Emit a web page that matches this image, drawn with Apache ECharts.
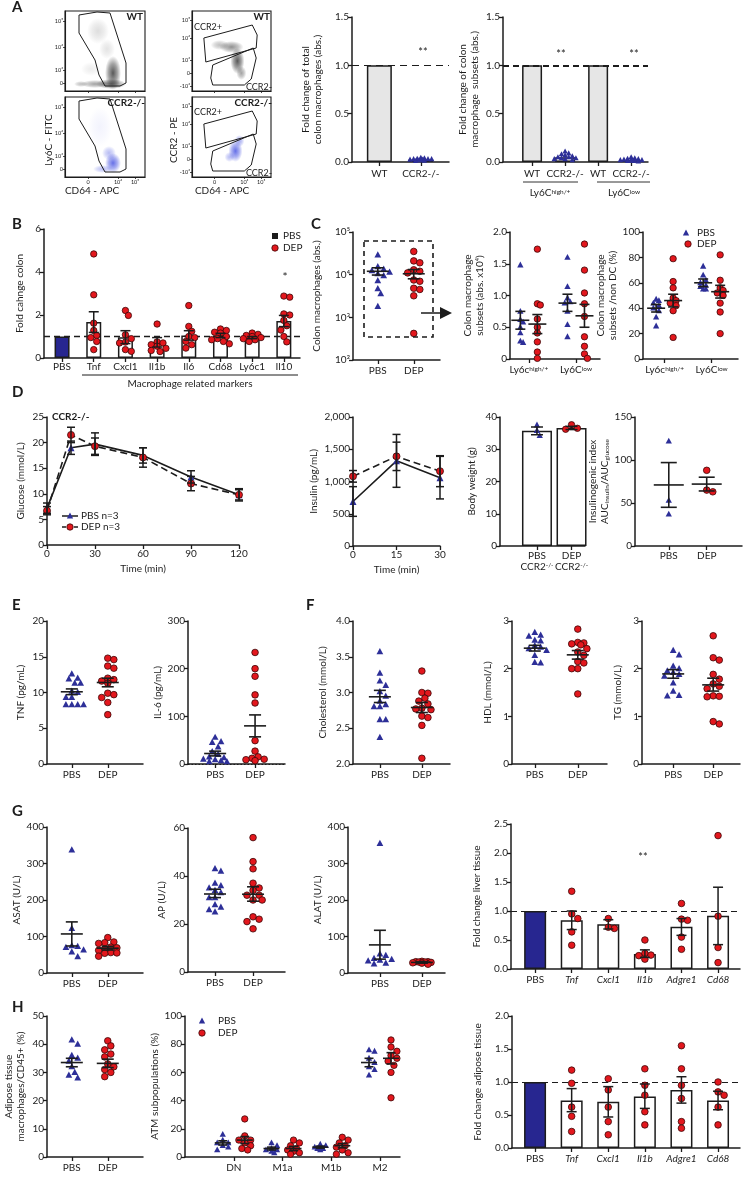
<!DOCTYPE html>
<html><head><meta charset="utf-8"><title>Figure</title>
<script src="https://cdn.jsdelivr.net/npm/echarts@6.0.0/dist/echarts.min.js"></script>
<style>html,body{margin:0;padding:0;background:#fff;}#chart{width:744px;height:1179px;}</style>
</head><body><div id="chart"></div>
<script>
// ================= DATA =================
// Panel A – flow cytometry (plot units 0–80): tick labels, gates and density clusters
const flowTicksLy6C=[[8,'0'],[21,'10³'],[44,'10⁴'],[70,'10⁵']];
const flowTicksCCR2=[[5,'-10³'],[18,'0'],[31,'10³'],[53,'10⁴'],[71,'10⁵']];
const flowTicksCD64=[[23,'0'],[53,'10⁴'],[70,'10⁵']];
const flowGateLy6C=[[14,76],[32,79],[45,78],[61,28],[61,8],[55,5],[40,5],[34,16],[30,31],[14,58],[14,76]];
const flowGateCCR2pos=[[12,53],[61,66],[66,56],[65,43],[14,29],[12,53]];
const flowGateCCR2neg=[[21,26],[62,43],[65,33],[60,12],[53,6],[21,6],[19,13],[21,26]];
const flowWTly6C=[[48,18,16,34,0.9],[46,7,30,10,0.8],[30,7,28,8,0.5],[16,7,14,6,0.35],[33,60,22,26,0.18],[42,42,16,20,0.15],[26,22,20,14,0.1]];
const flowKOly6C=[[48,14,16,20,0.85],[44,24,14,14,0.4],[38,8,20,8,0.4],[35,50,24,40,0.07]];
const flowWTccr2=[[46,30,14,26,0.9],[40,44,24,12,0.6],[28,46,18,10,0.35],[50,18,10,14,0.5]];
const flowKOccr2=[[44,26,14,22,0.85],[48,36,10,12,0.5],[38,20,10,10,0.4]];

// Panel A – bar charts
const aTotalCats=['WT','CCR2-/-'];
const aTotalBar=[1.0,0.025];
const aTotalKO=[0.045,0.04,0.035,0.03,0.03,0.025,0.025,0.02,0.02,0.015,0.01,0.03];
const aSubCats=['WT','CCR2-/-','WT','CCR2-/-'];
const aSubBar=[1.0,0.05,1.0,0.02];
const aSubKOhigh=[0.11,0.09,0.08,0.07,0.06,0.05,0.05,0.04,0.04,0.03,0.03,0.02];
const aSubKOlow=[0.05,0.04,0.035,0.03,0.025,0.02,0.02,0.015,0.01,0.01,0.005,0.02];

// Panel B
const bCats=['PBS','Tnf','Cxcl1','Il1b','Il6','Cd68','Ly6c1','Il10'];
const bMean=[1.0,1.67,0.97,0.73,1.05,1.05,0.95,1.72];
const bSem=[0,0.48,0.30,0.22,0.22,0.10,0.05,0.26];
const bDEP=[[],
 [4.84,2.94,1.62,1.28,1.05,0.95,0.77,0.39],
 [2.21,1.98,1.08,0.9,0.74,0.7,0.39,0.31],
 [1.58,0.75,0.7,0.62,0.55,0.45,0.35,0.3],
 [2.44,1.47,1.24,1.0,0.95,0.77,0.62,0.46],
 [1.35,1.28,1.2,1.16,1.0,0.9,0.85,0.77,0.66],
 [1.16,1.1,1.05,1.0,0.95,0.9,0.85,0.77],
 [2.88,2.83,2.05,2.0,1.75,1.5,1.3,1.0,0.75]];

// Panel C
const c1Cats=['PBS','DEP'];
const c1PBS=[29000,15400,13500,12400,11500,10500,9500,7200,4700,3600,1800];
const c1DEP=[35000,21000,19000,13000,12000,11000,7500,7000,4800,4500,3200,420];
const c1Stats=[[12000,9800,14500],[10500,8000,13200]];
const c2Cats=['Ly6c{s|high/+}','Ly6C{s|low}'];
const c2PBS=[[1.48,0.75,0.62,0.58,0.5,0.41,0.28,0.26],[1.6,1.14,0.96,0.9,0.88,0.75,0.54,0.35]];
const c2DEP=[[1.73,0.87,0.85,0.63,0.5,0.41,0.27,0.11,0.01],[1.81,1.4,1.04,0.87,0.67,0.35,0.2,0.08,0.01]];
const c2StatsPBS=[[0.61,0.47,0.75],[0.88,0.75,1.02]];
const c2StatsDEP=[[0.55,0.40,0.70],[0.68,0.50,0.86]];
const c3PBS=[[47,46,44,42,40,38,33,26],[73,66,62,60,58,57,55,55]];
const c3DEP=[[79,61,56,48,46,44,42,38,17],[82,62,56,54,52,50,44,37,20]];
const c3StatsPBS=[[40,37,43],[60,57,63]];
const c3StatsDEP=[[46,41,51],[53,48,58]];

// Panel D
const dTimes=[0,15,30,60,90,120];
const dGluPBS=[7.2,19.0,19.7,17.5,13.3,9.8];
const dGluPBSerr=[1.0,1.3,2.2,1.5,1.2,1.0];
const dGluDEP=[6.7,21.5,19.3,17.1,12.0,9.8];
const dGluDEPerr=[0.8,1.5,1.6,1.9,1.4,1.2];
const dInsTimes=[0,15,30];
const dInsPBS=[690,1320,1060];
const dInsPBSerr=[230,410,330];
const dInsDEP=[1080,1390,1160];
const dInsDEPerr=[90,220,240];
const dBwCats=['PBS','DEP'];
const dBwMean=[35.7,36.6];
const dBwSem=[1.2,0.5];
const dBwPBS=[37.5,35.8,34.2];
const dBwDEP=[37.6,36.5,36.2];
const dIdxPBS=[122,53,37];
const dIdxDEP=[88,65,63];
const dIdxStats=[[71,45,97],[72,64,80]];

// Panel E
const eTnfPBS=[12.6,12.0,11.9,11.3,11.3,10.2,10.0,9.3,9.3,8.3,8.3,8.3,8.3];
const eTnfDEP=[14.8,14.6,13.7,13.4,12.0,11.8,11.6,11.3,9.9,9.7,9.3,8.6,6.9];
const eTnfStats=[[10.1,9.7,10.5],[11.4,10.8,12.0]];
const eIl6PBS=[56,47,45,36,26,20,15,13,10,9,7,5,5];
const eIl6DEP=[234,200,184,145,128,49,27,15,12,10,9,7];
const eIl6Stats=[[22,17,27],[80,57,103]];

// Panel F
const fCholPBS=[3.57,3.27,3.16,3.10,3.01,2.95,2.88,2.83,2.80,2.80,2.62,2.62,2.37];
const fCholDEP=[3.30,3.00,2.99,2.92,2.88,2.84,2.78,2.77,2.76,2.67,2.65,2.54,2.08];
const fCholStats=[[2.94,2.86,3.03],[2.79,2.72,2.86]];
const fHdlPBS=[2.76,2.70,2.68,2.60,2.58,2.48,2.45,2.42,2.38,2.28,2.13,2.12];
const fHdlDEP=[2.83,2.55,2.54,2.52,2.50,2.42,2.35,2.28,2.15,2.12,2.00,2.00,1.47];
const fHdlStats=[[2.43,2.37,2.49],[2.29,2.20,2.38]];
const fTgPBS=[2.38,2.29,2.05,2.0,1.95,1.92,1.88,1.84,1.70,1.53,1.44,1.43];
const fTgDEP=[2.69,2.23,2.18,1.88,1.78,1.68,1.63,1.58,1.43,1.42,1.41,0.89,0.84];
const fTgStats=[[1.89,1.80,1.98],[1.66,1.53,1.80]];

// Panel G
const gAsatPBS=[337,122,75,73,70,63,58,45];
const gAsatDEP=[97,85,83,81,71,69,66,62,56,55,54,46];
const gAsatStats=[[107,74,140],[68,63,73]];
const gApPBS=[43,42,37,36,35,34,33,31,31,28,27,26,25];
const gApDEP=[56,46,43,37,35,34,32,32,30,30,23,22,21,18];
const gApStats=[[32.5,31,34.5],[32.4,29.5,35.5]];
const gAlatPBS=[355,52,48,40,37,35,33,27,25];
const gAlatDEP=[32,31,31,30,30,29,28,27,24];
const gAlatStats=[[77,38,117],[29,27,31]];
const geneCats=['PBS','Tnf','Cxcl1','Il1b','Adgre1','Cd68'];
const gLiverMean=[1.0,0.84,0.77,0.26,0.73,0.92];
const gLiverErr=[null,[0.68,1.0],[0.69,0.85],[0.20,0.33],[0.58,0.87],[0.42,1.41]];
const gLiverPts=[[],[1.34,0.95,0.87,0.64,0.41],[0.87,0.72,0.70],[0.50,0.27,0.24,0.23,0.17],[1.13,0.86,0.84,0.55,0.34],[2.30,0.91,0.37,0.11]];

// Panel H
const hMacPBS=[41.5,40,36,35,34,32,30,29,28];
const hMacDEP=[41.2,39.4,38,36.5,35.5,33,32,31,30,28.5];
const hMacStats=[[33.5,32,35],[33.2,31.7,34.7]];
const hAtmCats=['DN','M1a','M1b','M2'];
const hAtmPBS=[[16,12,10,10,8,7,5],[10,8,6,5,5,4,3],[9,8,7,7,6,6,5],[76,75,70,67,64,62,58]];
const hAtmDEP=[[27,15,12,12,10,8,6,5],[12,10,8,6,5,4,3,2],[14,12,10,8,7,5,3,2],[83,78,75,72,70,68,65,60,42]];
const hAtmStatsPBS=[[10,8.5,11.5],[6,5,7],[7,6.3,7.7],[67,64,70]];
const hAtmStatsDEP=[[12,9.5,14.5],[6,4.5,7.5],[8,6.5,9.5],[70,66,74]];
const hFoldMean=[1.0,0.72,0.70,0.78,0.88,0.72];
const hFoldErr=[null,[0.55,0.90],[0.47,0.93],[0.60,0.97],[0.68,1.08],[0.58,0.86]];
const hFoldPts=[[],[1.18,0.98,0.62,0.48,0.25],[1.05,0.88,0.62,0.40,0.20],[1.20,0.95,0.80,0.55,0.35],[1.55,1.20,0.95,0.75,0.40,0.30],[1.00,0.85,0.80,0.62,0.35]];

// ================= BUILD =================
const F='Lato, "Open Sans", "DejaVu Sans", sans-serif';
const INK='#1c1c1c', NAVY='#2d2f98', RED='#e3171d', BARNAVY='#272690';
const grids=[], xAxes=[], yAxes=[], series=[], graphic=[];

function merge(a,b){const r=Object.assign({},a);for(const k in b){const v=b[k];if(v&&typeof v==='object'&&!Array.isArray(v)&&r[k]&&typeof r[k]==='object'&&!Array.isArray(r[k])&&typeof v!=='function')r[k]=merge(r[k],v);else r[k]=v;}return r;}
const AXBASE={axisLine:{show:true,onZero:false,lineStyle:{color:INK,width:1.5}},axisTick:{show:true,length:4,lineStyle:{color:INK,width:1.3}},axisLabel:{color:INK,fontSize:10,fontFamily:F,margin:3},splitLine:{show:false},nameTextStyle:{color:INK,fontSize:10,fontFamily:F,lineHeight:12}};
function yAx(o){return merge(merge(AXBASE,{type:'value',nameLocation:'middle',nameRotate:90}),o||{});}
function xVal(o){return merge(merge(AXBASE,{type:'value',nameLocation:'middle'}),o||{});}
function xPos(names,first,max,o){const cv=names.map((n,i)=>+(first+i).toFixed(4));
  return merge(merge(AXBASE,{type:'value',min:0,max:max,nameLocation:'middle',axisTick:{customValues:cv},axisLabel:{customValues:cv,margin:5,formatter:v=>names[Math.round(v-first)]}}),o||{});}
function addGrid(b,xa,ya,extra){const i=grids.length;grids.push(Object.assign({left:b[0],top:b[1],width:b[2]-b[0],height:b[3]-b[1]},extra||{}));xa.gridIndex=i;ya.gridIndex=i;xAxes.push(xa);yAxes.push(ya);return i;}
const fmt1=v=>v.toFixed(1);
function dash(y,w,d){return {silent:true,symbol:['none','none'],label:{show:false},animation:false,lineStyle:{color:INK,type:d||[6,4],width:w||1.2},data:[{yAxis:y}]};}

// beeswarm layout in pixel space, spread limited to +-maxOff (points may overlap, as in the figure)
function swarm(ys,d,maxOff){const order=ys.map((y,i)=>i).sort((a,b)=>ys[a]-ys[b]);const placed=[];const res=new Array(ys.length).fill(0);const step=d*0.5;
  for(const i of order){const y=ys[i];let best=0,bestScore=-1;
    for(let k=0;k<200;k++){const dx=k===0?0:((k%2)?1:-1)*Math.ceil(k/2)*step;if(Math.abs(dx)>maxOff)break;
      let minD=Infinity;for(const p of placed){const ax=dx-p[0],ay=y-p[1];const dd=Math.sqrt(ax*ax+ay*ay);if(dd<minD)minD=dd;}
      if(minD>=d*0.96){best=dx;bestScore=Infinity;break;}
      if(minD>bestScore+0.3){bestScore=minD;best=dx;}}
    res[i]=best;placed.push([best,y]);}
  return res;}

function dots(gi,x,vals,kind,opt){opt=opt||{};
  series.push({type:'custom',xAxisIndex:gi,yAxisIndex:gi,silent:true,z:opt.z||5,data:[[x,vals.length?vals[0]:(opt.stats?opt.stats[0]:1)]],
    renderItem:(p,api)=>{const base=api.coord([x,vals.length?vals[0]:opt.stats[0]]);const cx=base[0]+(opt.off||0);
      const r=opt.r||3.3,d=opt.d||(2*r*0.92);const ys=vals.map(v=>api.coord([x,v])[1]);const offs=swarm(ys,d,opt.maxOff||12);const ch=[];
      ys.forEach((y,i)=>{const px=cx+offs[i];
        if(kind==='tri')ch.push({type:'polygon',shape:{points:[[px,y-r*1.15],[px+r*1.05,y+r*0.8],[px-r*1.05,y+r*0.8]]},style:{fill:NAVY}});
        else ch.push({type:'circle',shape:{cx:px,cy:y,r:r},style:{fill:RED,stroke:'#3a0808',lineWidth:0.8}});});
      if(opt.stats){const s=opt.stats;const ym=api.coord([x,s[0]])[1],yl=api.coord([x,s[1]])[1],yh=api.coord([x,s[2]])[1];
        const mw=opt.mw||22,cw=opt.cw||12;const st={stroke:INK,lineWidth:1.6};
        ch.push({type:'line',shape:{x1:cx-mw/2,y1:ym,x2:cx+mw/2,y2:ym},style:st});
        ch.push({type:'line',shape:{x1:cx,y1:yl,x2:cx,y2:yh},style:st});
        ch.push({type:'line',shape:{x1:cx-cw/2,y1:yl,x2:cx+cw/2,y2:yl},style:st});
        ch.push({type:'line',shape:{x1:cx-cw/2,y1:yh,x2:cx+cw/2,y2:yh},style:st});}
      return {type:'group',children:ch};}});}

function errs(gi,rows,cap,z){series.push({type:'custom',xAxisIndex:gi,yAxisIndex:gi,silent:true,z:z||6,data:rows,encode:{x:0,y:1},
  renderItem:(p,api)=>{const x=api.value(0);const a=api.coord([x,api.value(1)]),b=api.coord([x,api.value(2)]);const st={stroke:INK,lineWidth:1.5};const h=cap/2;
    return {type:'group',children:[{type:'line',shape:{x1:a[0],y1:a[1],x2:b[0],y2:b[1]},style:st},{type:'line',shape:{x1:a[0]-h,y1:a[1],x2:a[0]+h,y2:a[1]},style:st},{type:'line',shape:{x1:b[0]-h,y1:b[1],x2:b[0]+h,y2:b[1]},style:st}]};}});}

function bars(gi,xs,vals,colors,w,ml){series.push({type:'bar',xAxisIndex:gi,yAxisIndex:gi,barWidth:w,silent:true,z:2,
  data:vals.map((v,i)=>({value:[xs[i],v],itemStyle:{color:colors[i]}})),itemStyle:{borderColor:INK,borderWidth:1.5},markLine:ml});}

function T(x,y,text,o){o=o||{};const e={type:'text',x:x,y:y,rotation:o.rot||0,z:50,silent:true,style:{text:text,fill:o.color||INK,font:(o.style||'normal')+' '+(o.weight||'normal')+' '+(o.size||10)+'px '+F,textAlign:o.align||'center',textVerticalAlign:o.va||'middle',align:o.align||'center',verticalAlign:o.va||'middle'}};
  if(o.rich){e.style.rich=o.rich;}graphic.push(e);}
function L(x1,y1,x2,y2,w,dsh){graphic.push({type:'line',z:50,silent:true,shape:{x1,y1,x2,y2},style:{stroke:INK,lineWidth:w||1,lineDash:dsh||null}});}
function TRI(x,y,r){graphic.push({type:'polygon',z:50,silent:true,shape:{points:[[x,y-r*1.15],[x+r*1.05,y+r*0.8],[x-r*1.05,y+r*0.8]]},style:{fill:NAVY}});}
function CIR(x,y,r){graphic.push({type:'circle',z:50,silent:true,shape:{cx:x,cy:y,r:r},style:{fill:RED,stroke:'#3a0808',lineWidth:0.8}});}
const SUP={s:{fontSize:6.5,verticalAlign:'top',fontFamily:F,color:INK,lineHeight:8}};

// ---------- Panel A: flow ----------
function flowAx(ticks,show){const v=ticks.map(t=>t[0]);return {type:'value',min:0,max:80,splitLine:{show:false},
  axisLine:{show:true,onZero:false,lineStyle:{color:INK,width:1.1}},axisTick:{show:true,length:2,customValues:v,lineStyle:{color:INK,width:0.8}},
  axisLabel:{show:show,customValues:v,fontSize:5.5,fontFamily:F,color:INK,margin:2,formatter:x=>{const t=ticks.find(t=>Math.abs(t[0]-x)<0.01);return t?t[1]:'';}}};}
const flowBox={show:true,borderColor:INK,borderWidth:1.1};
function blobs(gi,arr,rgb){series.push({type:'scatter',xAxisIndex:gi,yAxisIndex:gi,silent:true,z:1,
  data:arr.map(b=>({value:[b[0],b[1]],symbolSize:[b[2],b[3]],itemStyle:{color:{type:'radial',x:0.5,y:0.5,r:0.5,colorStops:[{offset:0,color:'rgba('+rgb+','+b[4]+')'},{offset:0.55,color:'rgba('+rgb+','+(b[4]*0.55)+')'},{offset:1,color:'rgba('+rgb+',0)'}]}}}))});}
function gate(gi,pts){series.push({type:'line',xAxisIndex:gi,yAxisIndex:gi,silent:true,z:3,data:pts,symbol:'none',lineStyle:{color:INK,width:1}});}
const gF1=addGrid([65,11,145,91],flowAx(flowTicksCD64,false),flowAx(flowTicksLy6C,true),flowBox);
const gF2=addGrid([65,97,145,177],flowAx(flowTicksCD64,true),flowAx(flowTicksLy6C,true),flowBox);
const gF3=addGrid([192,11,271,91],flowAx(flowTicksCD64,false),flowAx(flowTicksCCR2,true),flowBox);
const gF4=addGrid([192,97,271,177],flowAx(flowTicksCD64,true),flowAx(flowTicksCCR2,true),flowBox);
blobs(gF1,flowWTly6C,'25,25,25');gate(gF1,flowGateLy6C);
blobs(gF2,flowKOly6C,'30,45,220');gate(gF2,flowGateLy6C);
blobs(gF3,flowWTccr2,'25,25,25');gate(gF3,flowGateCCR2pos);gate(gF3,flowGateCCR2neg);
blobs(gF4,flowKOccr2,'30,45,220');gate(gF4,flowGateCCR2pos);gate(gF4,flowGateCCR2neg);
T(143,17,'WT',{weight:'bold',size:10,align:'right'});
T(145,103,'CCR2-/-',{weight:'bold',size:10,align:'right'});
T(270,17,'WT',{weight:'bold',size:10,align:'right'});
T(272,103,'CCR2-/-',{weight:'bold',size:10,align:'right'});
T(194,27,'CCR2+',{size:9,align:'left'});T(194,112,'CCR2+',{size:9,align:'left'});
T(272,87,'CCR2-',{size:9,align:'right'});T(272,173,'CCR2-',{size:9,align:'right'});
T(49,140,'Ly6C - FITC',{rot:Math.PI/2,size:10});
T(174,140,'CCR2 - PE',{rot:Math.PI/2,size:10});
T(92,191,'CD64 - APC',{size:10});T(222,191,'CD64 - APC',{size:10});

// ---------- Panel A: bars ----------
const gA1=addGrid([352,17,449,162],xPos(aTotalCats,0.66,2.34,{axisLabel:{margin:7}}),yAx({min:0,max:1.5,interval:0.5,axisLabel:{formatter:fmt1},name:'Fold change of total\ncolon macrophages (abs.)',nameGap:28}));
bars(gA1,[0.66,1.66],aTotalBar,['#e6e6e6','#e6e6e6'],25,dash(1,1.1,[7,5]));
dots(gA1,1.66,aTotalKO,'tri',{r:2.6,d:3.6,maxOff:12});
const gA2=addGrid([503,17,648,162],xPos(aSubCats,0.88,4.39,{axisLabel:{margin:7}}),yAx({min:0,max:1.5,interval:0.5,axisLabel:{formatter:fmt1},name:'Fold change of colon\nmacrophage  subsets (abs.)',nameGap:22}));
bars(gA2,[0.88,1.88,2.88,3.88],aSubBar,['#e6e6e6','#e6e6e6','#e6e6e6','#e6e6e6'],20,dash(1,2,[6,4]));
dots(gA2,1.88,aSubKOhigh,'tri',{r:2.6,d:3.6,maxOff:11});
dots(gA2,3.88,aSubKOlow,'tri',{r:2.6,d:3.6,maxOff:11});
T(423,52,'**',{size:11});T(561,54,'**',{size:11});T(634,54,'**',{size:11});
L(523,182,578,182,0.9);L(597,182,650,182,0.9);
T(550,193,'Ly6C{s|high/+}',{rich:SUP});T(624,193,'Ly6C{s|low}',{rich:SUP});

// ---------- Panel B ----------
const bFirst=0.57;const bX=bCats.map((c,i)=>bFirst+i);
const gB=addGrid([44,229,300,358],xPos(bCats,bFirst,8.08,{axisLabel:{margin:4}}),yAx({min:0,max:6,interval:2,name:'Fold cahnge colon',nameGap:18}));
bars(gB,bX,bMean,bCats.map((c,i)=>i===0?BARNAVY:'#fff'),15,dash(1,1.3,[6,4]));
errs(gB,bX.slice(1).map((x,i)=>[x,bMean[i+1]-bSem[i+1],bMean[i+1]+bSem[i+1]]),10);
bX.forEach((x,i)=>{if(bDEP[i].length)dots(gB,x,bDEP[i],'cir',{r:3.2,maxOff:11});});
L(82,375,298,375,1);T(190,384,'Macrophage related markers',{size:10});
T(285,277,'*',{size:12});
graphic.push({type:'rect',z:50,silent:true,shape:{x:272,y:233,width:6,height:6},style:{fill:INK}});
T(283,236,'PBS',{align:'left'});CIR(275,248,3.2);T(283,248,'DEP',{align:'left'});

// ---------- Panel C ----------
const supDigits={2:'²',3:'³',4:'⁴',5:'⁵'};
const gC1=addGrid([353,232,440,360],xPos(c1Cats,0.69,2.42,{axisLabel:{margin:6}}),yAx({type:'log',logBase:10,min:100,max:100000,axisLabel:{formatter:v=>'10'+supDigits[Math.round(Math.log10(v))]},name:'Colon macrophages (abs.)',nameGap:30}));
dots(gC1,0.69,c1PBS,'tri',{stats:c1Stats[0],r:3.2});
dots(gC1,1.69,c1DEP,'cir',{stats:c1Stats[1],r:3.3});
graphic.push({type:'rect',z:50,silent:true,shape:{x:364,y:241,width:69,height:96},style:{fill:null,stroke:INK,lineWidth:1.6,lineDash:[5,4]}});
L(421,313,443,313,1.5);graphic.push({type:'polygon',z:50,silent:true,shape:{points:[[440,307],[452,313],[440,319]]},style:{fill:INK}});

const c2Lab={axisLabel:{margin:6,rich:SUP}};
const gC2=addGrid([510,232,600,359],xPos(c2Cats,0.40,1.91,c2Lab),yAx({min:0,max:2,interval:0.5,axisLabel:{formatter:v=>v===0?'0':v.toFixed(1)},name:'Colon macrophage\nsubsets (abs. x10⁴)',nameGap:24}));
[0,1].forEach(i=>{dots(gC2,0.40+i,c2PBS[i],'tri',{off:-8.5,stats:c2StatsPBS[i],r:3,mw:18,cw:10,maxOff:5});dots(gC2,0.40+i,c2DEP[i],'cir',{off:8.5,stats:c2StatsDEP[i],r:3.2,mw:18,cw:10,maxOff:5});});
const gC3=addGrid([643,232,738,359],xPos(c2Cats,0.46,2.02,c2Lab),yAx({min:0,max:100,interval:20,name:'Colon macrophage\nsubsets /non DC (%)',nameGap:22}));
[0,1].forEach(i=>{dots(gC3,0.46+i,c3PBS[i],'tri',{off:-8.5,stats:c3StatsPBS[i],r:3,mw:18,cw:10,maxOff:5});dots(gC3,0.46+i,c3DEP[i],'cir',{off:8.5,stats:c3StatsDEP[i],r:3.2,mw:18,cw:10,maxOff:5});});
TRI(686,233,3);T(697,233,'PBS',{align:'left'});CIR(688,244,3.2);T(697,244,'DEP',{align:'left'});

// ---------- Panel D ----------
const gD1=addGrid([47,417,239,545],xVal({min:0,max:120,interval:30,name:'Time (min)',nameGap:18,axisLabel:{margin:4}}),yAx({min:0,max:25,interval:5,name:'Glucose (mmol/L)',nameGap:20}));
series.push({type:'line',xAxisIndex:gD1,yAxisIndex:gD1,silent:true,z:4,data:dTimes.map((t,i)=>[t,dGluPBS[i]]),symbol:'triangle',symbolSize:7,itemStyle:{color:NAVY},lineStyle:{color:INK,width:1.6}});
series.push({type:'line',xAxisIndex:gD1,yAxisIndex:gD1,silent:true,z:4,data:dTimes.map((t,i)=>[t,dGluDEP[i]]),symbol:'circle',symbolSize:7,itemStyle:{color:RED,borderColor:'#3a0808',borderWidth:0.8},lineStyle:{color:INK,width:1.6,type:[7,4]}});
errs(gD1,dTimes.map((t,i)=>[t,dGluPBS[i]-dGluPBSerr[i],dGluPBS[i]+dGluPBSerr[i]]),8);
errs(gD1,dTimes.map((t,i)=>[t,dGluDEP[i]-dGluDEPerr[i],dGluDEP[i]+dGluDEPerr[i]]),8);
T(52,417,'CCR2-/-',{weight:'bold',align:'left',size:10});
L(62,516,78,516,1.5);TRI(70,516,3);T(81,516,'PBS n=3',{align:'left'});
L(62,527,78,527,1.5,[4,2]);CIR(70,527,3.2);T(81,527,'DEP n=3',{align:'left'});

const gD2=addGrid([353,417,440,546],xVal({min:0,max:30,interval:15,name:'Time (min)',nameGap:18,axisLabel:{margin:4}}),yAx({min:0,max:2000,interval:500,axisLabel:{formatter:v=>v.toLocaleString('en-US')},name:'Insulin (pg/mL)',nameGap:33}));
series.push({type:'line',xAxisIndex:gD2,yAxisIndex:gD2,silent:true,z:4,data:dInsTimes.map((t,i)=>[t,dInsPBS[i]]),symbol:'triangle',symbolSize:7,itemStyle:{color:NAVY},lineStyle:{color:INK,width:1.6}});
series.push({type:'line',xAxisIndex:gD2,yAxisIndex:gD2,silent:true,z:4,data:dInsTimes.map((t,i)=>[t,dInsDEP[i]]),symbol:'circle',symbolSize:7,itemStyle:{color:RED,borderColor:'#3a0808',borderWidth:0.8},lineStyle:{color:INK,width:1.6,type:[7,4]}});
errs(gD2,dInsTimes.map((t,i)=>[t,dInsPBS[i]-dInsPBSerr[i],dInsPBS[i]+dInsPBSerr[i]]),8);
errs(gD2,dInsTimes.map((t,i)=>[t,dInsDEP[i]-dInsDEPerr[i],dInsDEP[i]+dInsDEPerr[i]]),8);

const gD3=addGrid([500,417,585,546],xPos(dBwCats,1.07,2.46,{axisLabel:{margin:4,lineHeight:11,rich:SUP,formatter:v=>dBwCats[Math.round(v-1.07)]+'\nCCR2{s|-/-}'}}),yAx({min:0,max:40,interval:10,name:'Body weight (g)',nameGap:22}));
bars(gD3,[1.07,2.07],dBwMean,['#fff','#fff'],30);
errs(gD3,[[1.07,dBwMean[0]-dBwSem[0],dBwMean[0]+dBwSem[0]],[2.07,dBwMean[1]-dBwSem[1],dBwMean[1]+dBwSem[1]]],12);
dots(gD3,1.07,dBwPBS,'tri',{r:3});dots(gD3,2.07,dBwDEP,'cir',{r:3.2});

const gD4=addGrid([635,417,742,546],xPos(dBwCats,0.89,2.82),yAx({min:0,max:150,interval:50,name:'Insulinogenic index\nAUC{b|insulin}/AUC{b|glucose}',nameGap:16,nameTextStyle:{rich:{b:{fontSize:6.5,verticalAlign:'bottom',fontFamily:F,color:INK,lineHeight:12}}}}));
dots(gD4,0.89,dIdxPBS,'tri',{stats:dIdxStats[0],r:3,mw:30,cw:16});
dots(gD4,1.89,dIdxDEP,'cir',{stats:dIdxStats[1],r:3.3,mw:30,cw:16});

// ---------- Panel E ----------
function dotPanel(box,first,max,yo,p,dp,st,ml){const g=addGrid(box,xPos(['PBS','DEP'],first,max,{axisLabel:{margin:6}}),yAx(yo));
  dots(g,first,p,'tri',{stats:st[0],r:3.2});dots(g,first+1,dp,'cir',{stats:st[1],r:3.3});
  if(ml)series.push({type:'line',xAxisIndex:g,yAxisIndex:g,data:[],silent:true,markLine:ml});return g;}
dotPanel([47,621,143,764],0.69,2.67,{min:0,max:20,interval:5,name:'TNF (pg/mL)',nameGap:20},eTnfPBS,eTnfDEP,eTnfStats);
dotPanel([188,621,285,764],0.68,2.43,{min:0,max:300,interval:100,name:'IL-6 (pg/mL)',nameGap:24},eIl6PBS,eIl6DEP,eIl6Stats,dash(0,1,[1.5,2]));

// ---------- Panel F ----------
dotPanel([353,621,450,764],0.64,2.31,{min:2,max:4,interval:0.5,axisLabel:{formatter:fmt1},name:'Cholesterol (mmol/L)',nameGap:24},fCholPBS,fCholDEP,fCholStats);
dotPanel([512,621,607,764],0.53,2.21,{min:0,max:3,interval:1,name:'HDL (mmol/L)',nameGap:18},fHdlPBS,fHdlDEP,fHdlStats);
dotPanel([642,621,740,764],0.78,2.45,{min:0,max:3,interval:1,name:'TG (mmol/L)',nameGap:18},fTgPBS,fTgDEP,fTgStats);

// ---------- Panel G ----------
dotPanel([47,827,143,973],0.69,2.67,{min:0,max:400,interval:100,name:'ASAT (U/L)',nameGap:24},gAsatPBS,gAsatDEP,gAsatStats);
dotPanel([188,828,285,972],0.71,2.55,{min:0,max:60,interval:20,name:'AP (U/L)',nameGap:20},gApPBS,gApDEP,gApStats);
dotPanel([348,827,445,973],0.76,2.31,{min:0,max:400,interval:100,name:'ALAT (U/L)',nameGap:24},gAlatPBS,gAlatDEP,gAlatStats);
const geneLab={axisLabel:{margin:6,rich:{i:{fontStyle:'italic',fontSize:10,fontFamily:F,color:INK}},formatter:null}};
function genePanel(box,first,max,yo,means,err,pts){const g=addGrid(box,xPos(geneCats,first,max,merge(geneLab,{axisLabel:{formatter:v=>{const i=Math.round(v-first);return i===0?'PBS':'{i|'+geneCats[i]+'}';}}})),yAx(yo));
  const xs=geneCats.map((c,i)=>first+i);bars(g,xs,means,geneCats.map((c,i)=>i===0?BARNAVY:'#fff'),22,dash(1,1.2,[6,4]));
  errs(g,xs.map((x,i)=>err[i]?[x,err[i][0],err[i][1]]:null).filter(r=>r),10);
  xs.forEach((x,i)=>{if(pts[i].length)dots(g,x,pts[i],'cir',{r:3.3,maxOff:9});});return g;}
genePanel([511,824,740,969],0.66,6.26,{min:0,max:2.5,interval:0.5,axisLabel:{formatter:fmt1},name:'Fold change liver tissue',nameGap:28},gLiverMean,gLiverErr,gLiverPts);
T(643,857,'**',{size:11});

// ---------- Panel H ----------
dotPanel([47,1016,143,1157],0.69,2.67,{min:0,max:50,interval:10,name:'Adipose tissue\nmacrophages/CD45+ (%)',nameGap:20},hMacPBS,hMacDEP,hMacStats);
const gH2=addGrid([185,1016,400,1157],xPos(hAtmCats,1.0,4.41,{axisLabel:{margin:6}}),yAx({min:0,max:100,interval:20,name:'ATM subpopulations (%)',nameGap:24}));
hAtmCats.forEach((c,i)=>{dots(gH2,1+i,hAtmPBS[i],'tri',{off:-11,stats:hAtmStatsPBS[i],r:3,mw:16,cw:9,maxOff:7});dots(gH2,1+i,hAtmDEP[i],'cir',{off:11,stats:hAtmStatsDEP[i],r:3.2,mw:16,cw:9,maxOff:7});});
TRI(202,1021,3);T(218,1021,'PBS',{align:'left'});CIR(202,1033,3.2);T(218,1033,'DEP',{align:'left'});
genePanel([512,1016,740,1148],0.63,6.23,{min:0,max:2,interval:0.5,axisLabel:{formatter:fmt1},name:'Fold change adipose tissue',nameGap:28},hFoldMean,hFoldErr,hFoldPts);

// ---------- Panel letters ----------
[['A',12,0],['B',12,217],['C',311,217],['D',12,385],['E',12,598],['F',306,598],['G',12,804],['H',12,1000]].forEach(l=>T(l[1],l[2],l[0],{weight:'bold',size:15,align:'left',va:'top'}));

const chart=echarts.init(document.getElementById('chart'),null,{renderer:'canvas'});
chart.setOption({animation:false,backgroundColor:'#fff',textStyle:{fontFamily:F},grid:grids,xAxis:xAxes,yAxis:yAxes,series:series,graphic:graphic});
</script></body></html>
